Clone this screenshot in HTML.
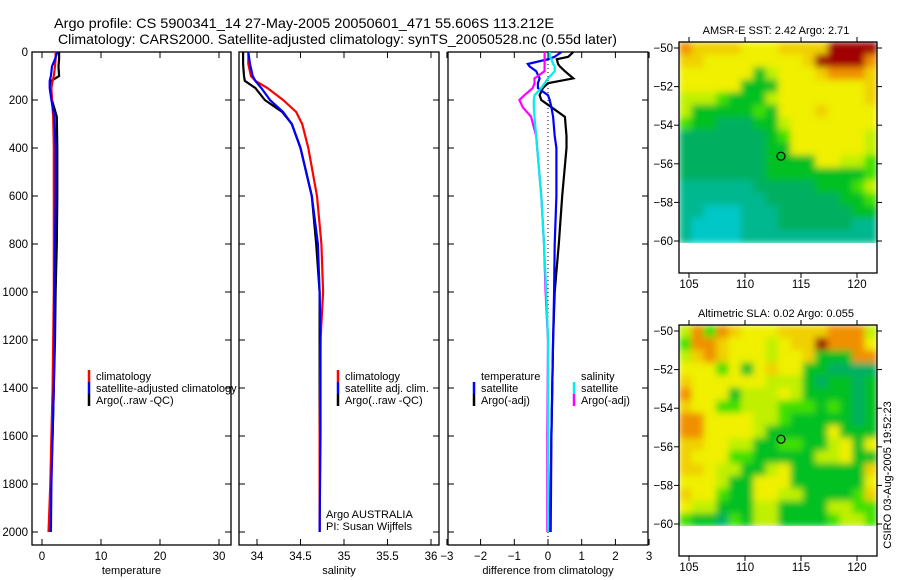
<!DOCTYPE html>
<html><head><meta charset="utf-8"><style>
html,body{margin:0;padding:0;background:#fff;}
svg{display:block;font-family:"Liberation Sans",sans-serif;}
</style></head><body>
<svg id="c" width="900" height="580" viewBox="0 0 900 580" xmlns="http://www.w3.org/2000/svg">
<defs>
<filter id="blur" x="0" y="0" width="1" height="1"><feGaussianBlur stdDeviation="3.5" edgeMode="duplicate"/></filter>
<clipPath id="clip1"><rect x="679" y="42" width="198" height="201"/></clipPath>
<clipPath id="clip2"><rect x="679" y="325" width="198" height="201"/></clipPath>
</defs>
<text x="54" y="28" font-size="14" textLength="500" lengthAdjust="spacingAndGlyphs">Argo profile: CS 5900341_14 27-May-2005 20050601_471 55.606S 113.212E</text>
<text x="58" y="44" font-size="14" textLength="559" lengthAdjust="spacingAndGlyphs">Climatology: CARS2000. Satellite-adjusted climatology: synTS_20050528.nc (0.55d later)</text>
<g id="g"></g>
</svg>
<script>
// ---- data ----
const depthT = [0,30,60,100,120,150,200,270,400,600,800,1000,1200,1400,1600,1800,2000];
const tempArgo = [2.9,2.9,2.8,2.9,1.6,1.5,1.7,2.5,2.6,2.6,2.5,2.3,2.2,2.0,1.8,1.5,1.4];
const tempClim = [2.3,2.3,2.2,2.0,1.8,1.6,1.7,1.9,2.0,2.0,2.0,2.0,1.9,1.8,1.6,1.4,1.1];
const tempSat  = [2.6,2.2,1.7,1.5,1.3,1.3,1.6,2.1,2.3,2.3,2.2,2.1,2.1,2.0,1.8,1.6,1.5];
const depthS = [0,50,100,120,150,200,250,300,400,600,800,1000,1200,1600,2000];
const salArgo = [33.84,33.84,33.85,33.86,33.98,34.09,34.29,34.40,34.50,34.63,34.68,34.72,34.72,34.72,34.72];
const salClim = [33.90,33.90,33.93,33.98,34.12,34.30,34.45,34.52,34.59,34.69,34.74,34.76,34.73,34.72,34.72];
const salSat  = [33.90,33.92,33.95,33.98,34.05,34.15,34.30,34.40,34.50,34.63,34.70,34.72,34.73,34.73,34.72];
const depthD = [0,20,30,50,60,80,110,130,150,180,200,230,270,350,400,600,800,1000,1200,1600,2000];
const diffTArgo = [0.75,0.6,0.26,0.3,0.35,0.5,0.75,0.0,-0.15,-0.25,-0.2,0.1,0.5,0.55,0.55,0.42,0.32,0.2,0.15,0.1,0.05];
const diffTSat  = [0.4,0.2,0.0,-0.6,-0.55,-0.35,-0.25,-0.3,-0.3,0.0,0.05,0.1,0.15,0.2,0.25,0.25,0.2,0.18,0.15,0.1,0.08];
const diffSArgo = [-0.1,-0.1,-0.1,-0.1,-0.1,-0.1,-0.4,-0.4,-0.45,-0.7,-0.85,-0.75,-0.5,-0.35,-0.32,-0.2,-0.12,-0.07,0.0,-0.02,-0.02];
const diffSSat  = [0.05,0.05,0.1,0.15,0.2,0.2,0.0,-0.1,-0.2,-0.4,-0.42,-0.42,-0.4,-0.35,-0.32,-0.2,-0.12,-0.05,0.0,0.0,0.0];
const depthTicks = [0,200,400,600,800,1000,1200,1400,1600,1800,2000];
const tempTicks = [0,10,20,30];
const salTicks = [34,34.5,35,35.5,36];
const diffTicks = [-3,-2,-1,0,1,2,3];
const lonTicks = [105,110,115,120];
const latTicks = [-50,-52,-54,-56,-58,-60];
const sstGrid = [
"8777766677779999","7766666666799998","6666663566678887","6666633366666667",
"5554333566666667","5333334366676666","4332223356666666","2222222346666665",
"2222222336666665","2222222333366554","2222222333333334","1111112222233345",
"1111111222222334","1100011122222233","1000011122222211","1000011111111111"];
const slaGrid = [
"5848766677778885","4887666567798886","5787666566733388","6664636766332222",
"7666666555323323","8666355565333323","7664455544434323","8866665543333323",
"8866665333336333","7766553344335636","7666443333355633","7765533563333337",
"6665336663333336","7664336655333347","6553335533335544","4332435533334554"];
const palette = ["#00c8c8","#00b890","#00b060","#00c020","#40e000","#c0f000","#f0f000","#f0d000","#f09000","#a00000"];

// ---- helpers ----
const NS="http://www.w3.org/2000/svg";
const G=document.getElementById('g');
function mk(tag,attrs,parent){const e=document.createElementNS(NS,tag);for(const k in attrs)e.setAttribute(k,attrs[k]);(parent||G).appendChild(e);return e;}
function txt(x,y,s,anchor,size,parent){const e=mk('text',{x:x,y:y,'font-size':size||11.5,'text-anchor':anchor||'start'},parent);e.textContent=s;return e;}
const Y0=52, Yk=0.24;
const yD = d => Y0 + Yk*d;
const xT = v => 42 + 5.9*v;
const xS = v => 257 + 87*(v-34);
const xDf = v => 548 + 33.7*v;

function panel(name,x0,x1,ticks,xf,label,drawYLabels){
  const g=mk('g',{});
  
  
  const fr=mk('rect',{x:x0,y:52,width:x1-x0,height:493,fill:'none',stroke:'#000','stroke-width':1.3},g);
  
  
  depthTicks.forEach(d=>{
    mk('line',{x1:x0,x2:x0+6,y1:yD(d),y2:yD(d),stroke:'#000'},g);
    mk('line',{x1:x1-6,x2:x1,y1:yD(d),y2:yD(d),stroke:'#000'},g);
    if(drawYLabels){const t=txt(28,yD(d)+4,String(d),'end',11.5,g);
      
      }
  });
  ticks.forEach(v=>{
    const x=xf(v);
    mk('line',{x1:x,x2:x,y1:52,y2:58,stroke:'#000'},g);
    mk('line',{x1:x,x2:x,y1:539,y2:545,stroke:'#000'},g);
    const t=txt(x,560,String(v).replace('-','\u2212'),'middle',11.5,g);
    
    
  });
  const lt=txt((x0+x1)/2,574,label,'middle',11,g);
  
  
  return g;
}
function series(name,vals,depths,xf,color,w){
  const pts=vals.map((v,i)=>xf(v).toFixed(1)+','+yD(depths[i]).toFixed(1)).join(' ');
  const e=mk('polyline',{points:pts,fill:'none',stroke:color,'stroke-width':w||2.2});
  
  
}
function legend(x,y,color,label,name){
  if(color){const l=mk('line',{x1:x,x2:x,y1:y-10,y2:y+2,stroke:color,'stroke-width':2.5});
    
    }
  const t=txt(x+7,y,label,'start',11);
  
  
}

// panel 1 temperature
panel('temperature-panel',32,231,tempTicks,xT,'temperature',true);
series('temp-argo-line',tempArgo,depthT,xT,'#000');
series('temp-climatology-line',tempClim,depthT,xT,'#f00');
series('temp-satellite-line',tempSat,depthT,xT,'#00f');
legend(89,380,'#f00','climatology','legend-climatology');
legend(89,392,'#00f','satellite-adjusted climatology','legend-satellite');
legend(89,404,'#000','Argo(..raw -QC)','legend-argo');

// panel 2 salinity
panel('salinity-panel',239,439,salTicks,xS,'salinity',false);
series('sal-argo-line',salArgo,depthS,xS,'#000');
series('sal-climatology-line',salClim,depthS,xS,'#f00');
series('sal-satellite-line',salSat,depthS,xS,'#00f');
legend(338,380,'#f00','climatology','legend2-climatology');
legend(338,392,'#00f','satellite adj. clim.','legend2-satellite');
legend(338,404,'#000','Argo(..raw -QC)','legend2-argo');
const a1=txt(326,518,'Argo AUSTRALIA','start',11);


const a2=txt(326,530,'PI: Susan Wijffels','start',11);



// panel 3 difference
panel('difference-panel',448,648,diffTicks,xDf,'difference from climatology',false);
const zl=mk('line',{x1:xDf(0),x2:xDf(0),y1:yD(0),y2:yD(2050),stroke:'#000','stroke-dasharray':'1,3'});


series('diff-temp-argo-line',diffTArgo,depthD,xDf,'#000');
series('diff-temp-satellite-line',diffTSat,depthD,xDf,'#00f');
series('diff-sal-argo-line',diffSArgo,depthD,xDf,'#f0f');
series('diff-sal-satellite-line',diffSSat,depthD,xDf,'#0ee');
legend(474,380,null,'temperature','legend3-temperature');
legend(474,392,'#00f','satellite','legend3-temp-satellite');
legend(474,404,'#000','Argo(-adj)','legend3-temp-argo');
legend(574,380,null,'salinity','legend3-salinity');
legend(574,392,'#0ee','satellite','legend3-sal-satellite');
legend(574,404,'#f0f','Argo(-adj)','legend3-sal-argo');

// maps
function map(name,top,grid,title,clipId){
  const g=mk('g',{});
  
  
  const L=679,R=877,imgTop=top,imgBot=top+201;
  const latY = v => top+6 + (-50 - v)*19.3;
  const lonX = v => 689 + (v-105)*11.2;
  const rows=grid.length, cols=grid[0].length;
  const cw=(R-L)/cols, ch=(imgBot-imgTop)/rows;
  const cg=mk('g',{'clip-path':'url(#'+clipId+')'},g);
  const img=mk('g',{filter:'url(#blur)'},cg);
  for(let r=0;r<rows;r++)for(let c=0;c<cols;c++){
    const cell=mk('rect',{x:(L+c*cw).toFixed(2),y:(imgTop+r*ch).toFixed(2),width:(cw+0.6).toFixed(2),height:(ch+0.6).toFixed(2),fill:palette[+grid[r][c]]},img);
    
    
  }
  const fr=mk('rect',{x:L,y:top,width:R-L,height:231,fill:'none',stroke:'#000','stroke-width':1.3},g);
  
  
  latTicks.forEach(v=>{
    const y=latY(v);
    mk('line',{x1:L-5,x2:L,y1:y,y2:y,stroke:'#000'},g);
    mk('line',{x1:R,x2:R+5,y1:y,y2:y,stroke:'#000'},g);
    const t=txt(L-6,y+4,String(v).replace('-','\u2212'),'end',11.5,g);
    
    
  });
  lonTicks.forEach(v=>{
    const x=lonX(v);
    mk('line',{x1:x,x2:x,y1:top-5,y2:top,stroke:'#000'},g);
    mk('line',{x1:x,x2:x,y1:top+231,y2:top+236,stroke:'#000'},g);
    const t=txt(x,top+246,String(v),'middle',11.5,g);
    
    
  });
  const tt=txt(776,top-8,title,'middle',11,g);
  
  
  const ci=mk('circle',{cx:lonX(113.212),cy:latY(-55.606),r:4,fill:'none',stroke:'#000','stroke-width':1.2},g);
  
  
}
map('sst-map',42,sstGrid,'AMSR-E SST: 2.42 Argo: 2.71','clip1');
map('sla-map',325,slaGrid,'Altimetric SLA: 0.02 Argo: 0.055','clip2');
const cs=mk('text',{x:0,y:0,'font-size':11,'text-anchor':'middle',transform:'translate(891,475) rotate(-90)'});
cs.textContent='CSIRO 03-Aug-2005 19:52:23';


</script>
</body></html>
